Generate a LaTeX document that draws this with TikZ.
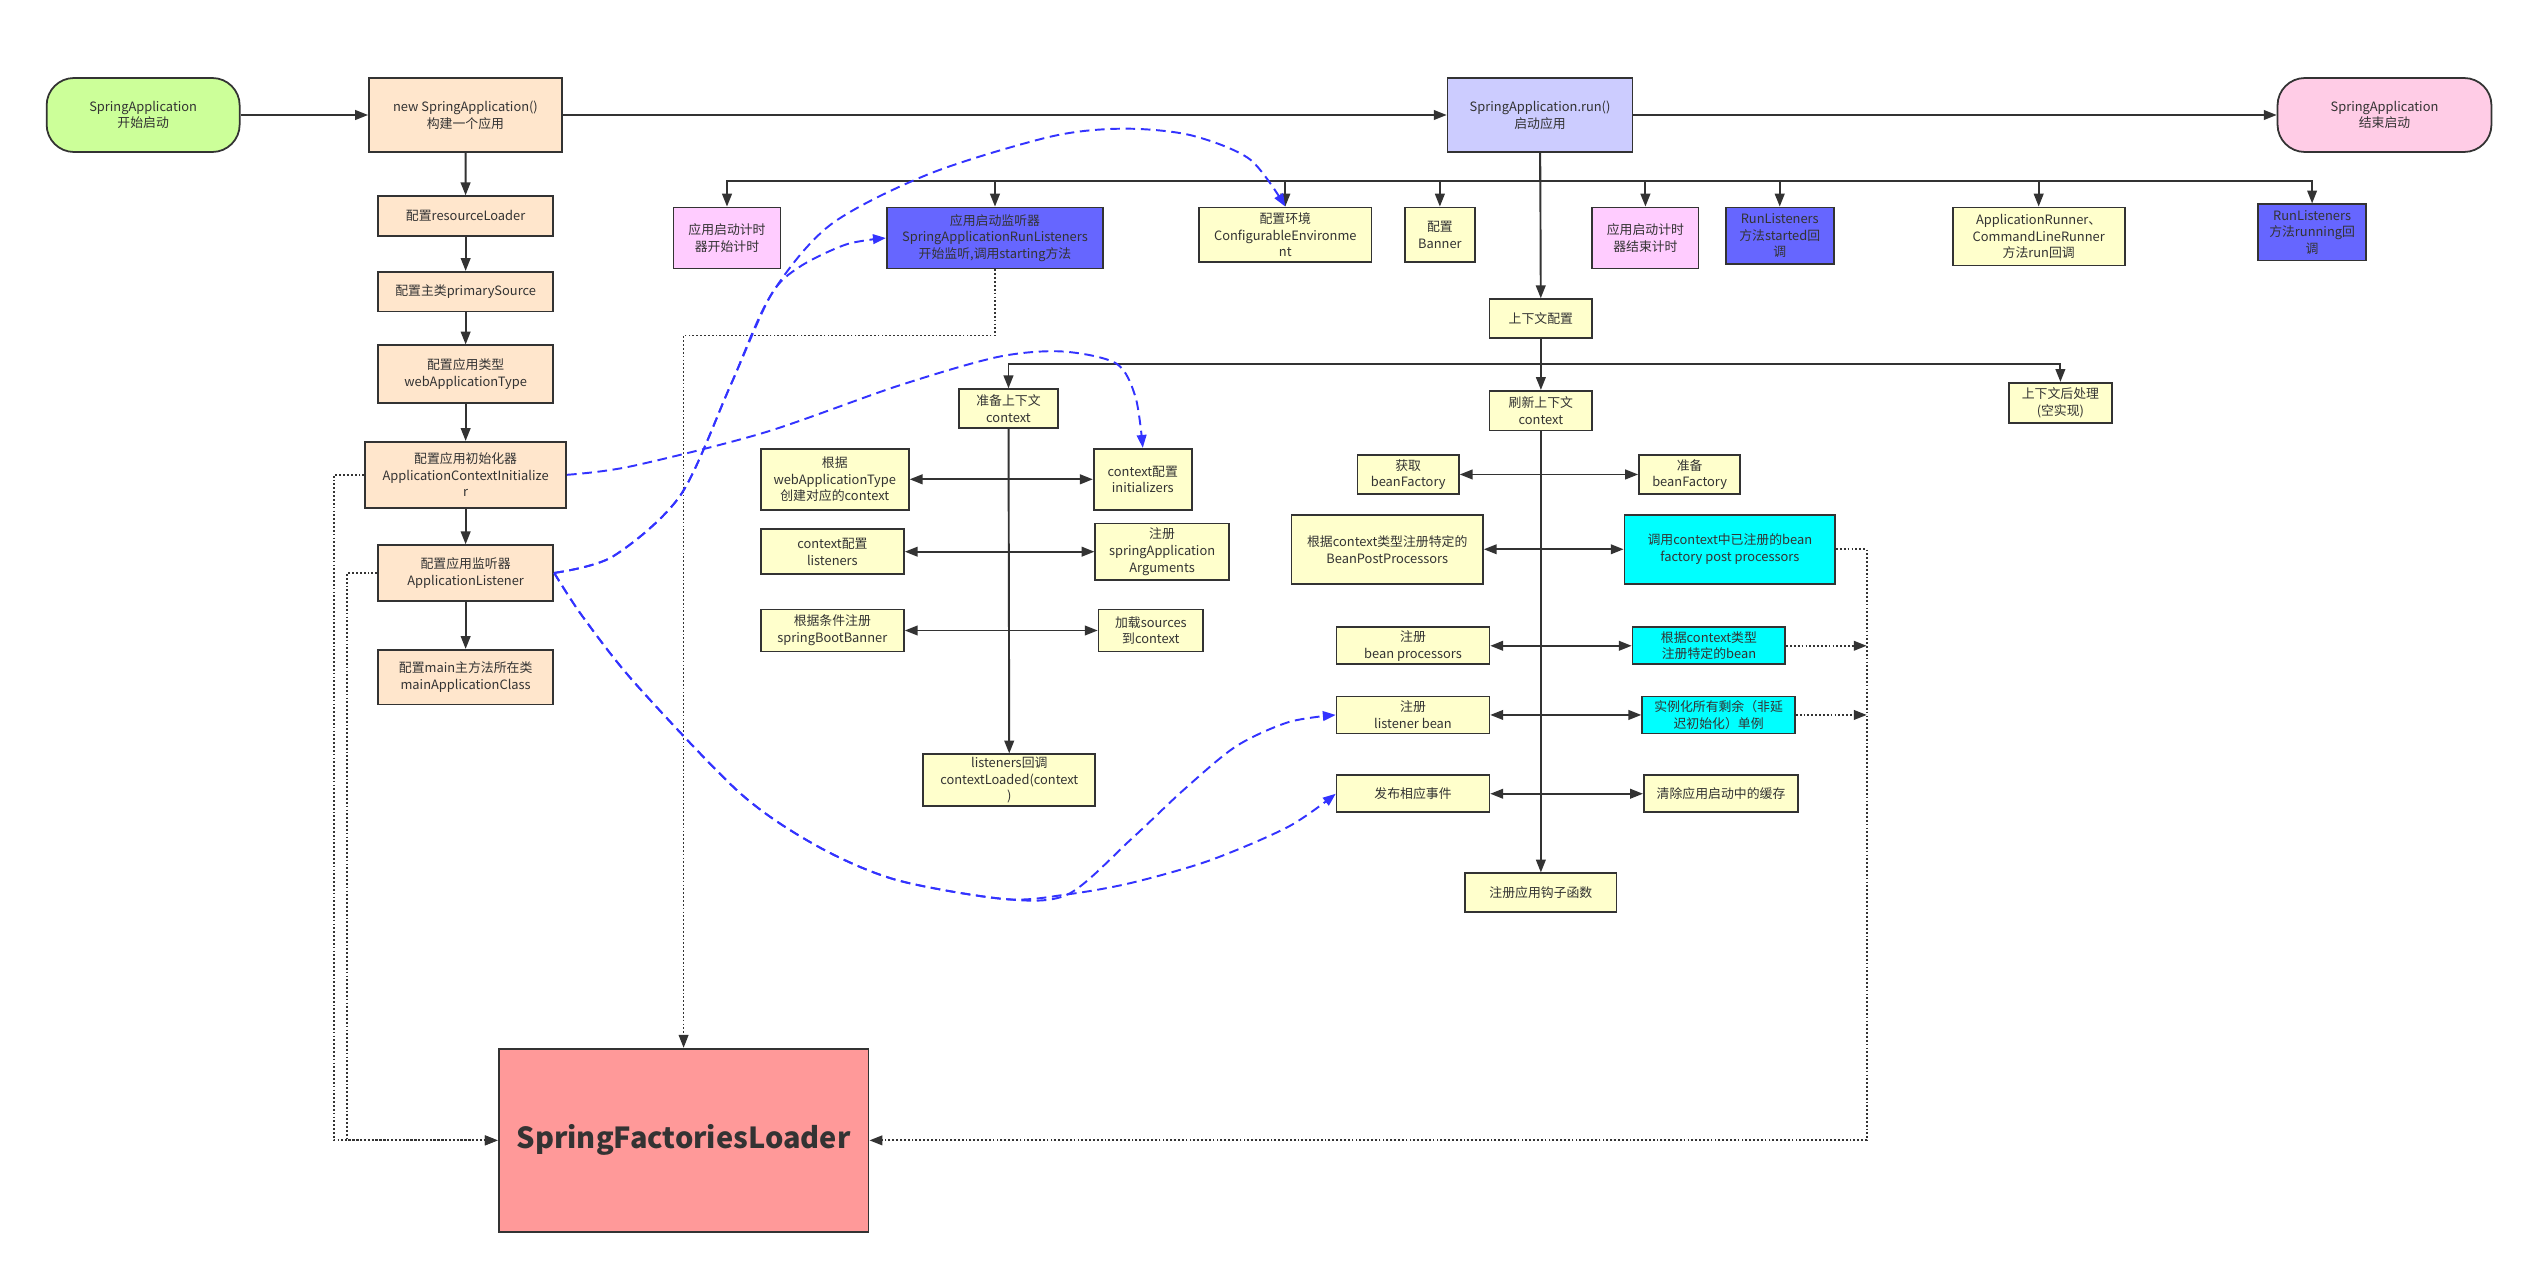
\documentclass[tikz,border=0pt]{standalone}
\usepackage{fontspec}
\setmainfont{Noto Sans CJK SC}
\usetikzlibrary{arrows.meta}
\definecolor{linec}{HTML}{333333}
\definecolor{linkblue}{HTML}{3333FF}
\definecolor{startc}{HTML}{CCFF99}
\definecolor{peach}{HTML}{FFE6CC}
\definecolor{runc}{HTML}{CCCCFF}
\definecolor{finishc}{HTML}{FFCCE6}
\definecolor{timerc}{HTML}{FFCCFF}
\definecolor{lisc}{HTML}{6666FF}
\definecolor{note}{HTML}{FFFFCC}
\definecolor{cyanc}{HTML}{00FFFF}
\definecolor{loaderc}{HTML}{FF9999}
\begin{document}
\begin{tikzpicture}[x=1pt,y=-1pt,>={Triangle[length=8pt,width=6pt]},
box/.style={draw=linec,line width=1.1pt,align=center,inner sep=1pt,text=linec,font=\fontsize{8}{10.4}\selectfont},
conn/.style={draw=linec,line width=1.2pt},
dot/.style={draw=linec,line width=1.1pt,dash pattern=on 1.1pt off 1.3pt},
link/.style={draw=linkblue,line width=1.2pt,dash pattern=on 6pt off 3.5pt}]
\path[fill=white] (0,0) rectangle (1568,786);
\useasboundingbox (0,0) rectangle (1568,786);
\node[box,fill=startc,rounded corners=17pt,minimum width=120pt,minimum height=46pt] (appstart) at (89,71.5) {SpringApplication\\开始启动};
\node[box,fill=peach,minimum width=120pt,minimum height=46pt] (newapp) at (289.4,71.5) {new SpringApplication()\\构建一个应用};
\node[box,fill=runc,minimum width=115pt,minimum height=46pt] (runapp) at (957.5,71.5) {SpringApplication.run()\\启动应用};
\node[box,fill=finishc,rounded corners=17pt,minimum width=133pt,minimum height=46pt] (appfinish) at (1482.5,71.5) {SpringApplication\\结束启动};
\node[box,fill=peach,minimum width=109pt,minimum height=24.6pt] (resloader) at (289.5,134.3) {配置resourceLoader};
\node[box,fill=peach,minimum width=109pt,minimum height=24.6pt] (primsrc) at (289.5,181.3) {配置主类primarySource};
\node[box,fill=peach,minimum width=109pt,minimum height=36pt] (apptype) at (289.5,232.7) {配置应用类型\\webApplicationType};
\node[box,fill=peach,minimum width=125pt,minimum height=41pt] (initializer) at (289.5,295.2) {配置应用初始化器\\ApplicationContextInitialize\\r};
\node[box,fill=peach,minimum width=109pt,minimum height=34.5pt] (listener) at (289.5,356.2) {配置应用监听器\\ApplicationListener};
\node[box,fill=peach,minimum width=109pt,minimum height=34pt] (mainclass) at (289.5,421) {配置main主方法所在类\\mainApplicationClass};
\node[box,fill=timerc,minimum width=66.5pt,minimum height=38pt] (timerstart) at (452,148) {应用启动计时\\器开始计时};
\node[box,fill=lisc,minimum width=134.6pt,minimum height=38pt] (runlis) at (618.6,148) {应用启动监听器\\SpringApplicationRunListeners\\开始监听,调用starting方法};
\node[box,fill=note,minimum width=107.2pt,minimum height=34pt] (environment) at (799.1,146) {配置环境\\ConfigurableEnvironme\\nt};
\node[box,fill=note,minimum width=43.5pt,minimum height=34pt] (bannercfg) at (895.2,146) {配置\\Banner};
\node[box,fill=timerc,minimum width=66pt,minimum height=38pt] (timerend) at (1023,148) {应用启动计时\\器结束计时};
\node[box,fill=lisc,minimum width=67pt,minimum height=35pt] (started) at (1106.5,146.5) {RunListeners\\方法started回\\调};
\node[box,fill=note,minimum width=107pt,minimum height=36pt] (runners) at (1267.5,147) {ApplicationRunner、\\CommandLineRunner\\方法run回调};
\node[box,fill=lisc,minimum width=67pt,minimum height=35pt] (running) at (1437.5,144.5) {RunListeners\\方法running回\\调};
\node[box,fill=note,minimum width=64pt,minimum height=24pt] (ctxsetup) at (958,198) {上下文配置};
\node[box,fill=note,minimum width=62pt,minimum height=24pt] (prepctx) at (627,254) {准备上下文\\context};
\node[box,fill=note,minimum width=64pt,minimum height=24.6pt] (refreshctx) at (958,255.3) {刷新上下文\\context};
\node[box,fill=note,minimum width=64pt,minimum height=25pt] (afterctx) at (1281,250.5) {上下文后处理\\(空实现)};
\node[box,fill=note,minimum width=92pt,minimum height=38pt] (createctx) at (519,298) {根据\\webApplicationType\\创建对应的context};
\node[box,fill=note,minimum width=61pt,minimum height=38pt] (ctxinit) at (710.5,298) {context配置\\initializers};
\node[box,fill=note,minimum width=89pt,minimum height=28pt] (ctxlis) at (517.5,343) {context配置\\listeners};
\node[box,fill=note,minimum width=83pt,minimum height=35pt] (regargs) at (722.5,343) {注册\\springApplication\\Arguments};
\node[box,fill=note,minimum width=89pt,minimum height=26pt] (regbanner) at (517.5,392) {根据条件注册\\springBootBanner};
\node[box,fill=note,minimum width=65pt,minimum height=26pt] (loadsrc) at (715.5,392) {加载sources\\到context};
\node[box,fill=note,minimum width=107pt,minimum height=32pt] (ctxloaded) at (627.5,485) {listeners回调\\contextLoaded(context\\)};
\node[box,fill=note,minimum width=63pt,minimum height=24pt] (getbf) at (875.5,295) {获取\\beanFactory};
\node[box,fill=note,minimum width=63pt,minimum height=24pt] (prepbf) at (1050.5,295) {准备\\beanFactory};
\node[box,fill=note,minimum width=119pt,minimum height=43pt] (regbpp) at (862.5,341.5) {根据context类型注册特定的\\BeanPostProcessors};
\node[box,fill=cyanc,minimum width=131pt,minimum height=43pt] (invokebfpp) at (1075.5,341.5) {调用context中已注册的bean\\factory post processors};
\node[box,fill=note,minimum width=95pt,minimum height=23pt] (regproc) at (878.5,401.5) {注册\\bean processors};
\node[box,fill=cyanc,minimum width=95pt,minimum height=23pt] (regbean) at (1062.5,401.5) {根据context类型\\注册特定的bean};
\node[box,fill=note,minimum width=95pt,minimum height=23pt] (reglisbean) at (878.5,444.5) {注册\\listener bean};
\node[box,fill=cyanc,minimum width=95pt,minimum height=23pt] (instsingle) at (1068.5,444.5) {实例化所有剩余（非延\\迟初始化）单例};
\node[box,fill=note,minimum width=95pt,minimum height=23pt] (publish) at (878.5,493.5) {发布相应事件};
\node[box,fill=note,minimum width=96pt,minimum height=23pt] (clearcache) at (1070,493.5) {清除应用启动中的缓存};
\node[box,fill=note,minimum width=94pt,minimum height=24pt] (hook) at (958,555) {注册应用钩子函数};
\node[box,fill=loaderc,minimum width=230pt,minimum height=114pt,font=\fontsize{18}{21}\selectfont\bfseries] (loader) at (425,709) {SpringFactoriesLoader};
\foreach \a/\b in {appstart/newapp,newapp/runapp,runapp/appfinish,newapp/resloader,resloader/primsrc,primsrc/apptype,apptype/initializer,initializer/listener,listener/mainclass,runapp/ctxsetup,prepctx/ctxloaded,refreshctx/hook}
  \draw[conn,->] (\a) -- (\b);
\foreach \n in {timerstart,runlis,environment,bannercfg,timerend,started,runners,running}
  \draw[conn,->] (runapp.south) -- ++(0,17.5) -| (\n.north);
\foreach \n in {prepctx,refreshctx,afterctx}
  \draw[conn,->] (ctxsetup.south) -- ++(0,15.5) -| (\n.north);
\foreach \a/\b in {createctx/ctxinit,ctxlis/regargs,regbanner/loadsrc,getbf/prepbf,regbpp/invokebfpp,regproc/regbean,reglisbean/instsingle,publish/clearcache}
  \draw[conn,<->] (\a) -- (\b);
\draw[dot,->] (initializer.west) -- ++(-18.6,0) |- (loader.west);
\draw[dot,->] (listener.west) -- ++(-18.5,0) |- (loader.west);
\draw[dot,->] (runlis.south) -- ++(0,41) -| (loader.north);
\draw[dot,->] (invokebfpp.east) -- ++(19,0) coordinate (rail) |- (loader.east);
\draw[dot,->] (regbean.east) -- (regbean.east -| rail);
\draw[dot,->] (instsingle.east) -- (instsingle.east -| rail);
\draw[link,->] plot[smooth] coordinates {(initializer.east) (392,290) (475,269) (558,240) (620,222) (660,218.5) (694,226) (706,247) (ctxinit.north)};
\draw[link,->] plot[smooth] coordinates {(listener.east) (381,346) (423,308) (454,240) (479,184) (516,140) (578,108) (653,85) (698,80) (740,84) (777,99) (environment.north)};
\draw[link,->] plot[smooth] coordinates {(listener.east) (381,346) (423,308) (454,240) (479,184) (497,166) (526,152) (runlis.west)};
\draw[link,->] plot[smooth] coordinates {(listener.east) (362,383) (395,425) (460,493) (508,526) (557,547) (625,559) (664,556) (703,522) (736,491) (768.5,464) (801,449) (reglisbean.west)};
\draw[link,->] plot[smooth] coordinates {(listener.east) (362,383) (395,425) (460,493) (508,526) (557,547) (625,559) (664,556) (703,549) (752,535) (801,514) (publish.west)};
\end{tikzpicture}
\end{document}
